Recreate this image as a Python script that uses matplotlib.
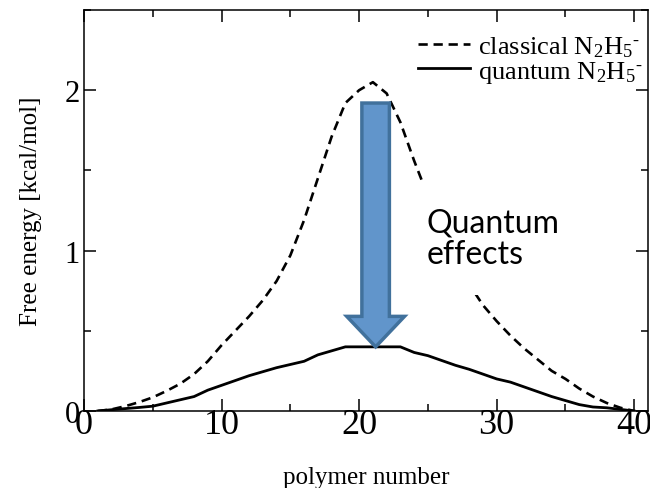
import matplotlib
matplotlib.use("Agg")
import matplotlib.pyplot as plt
from matplotlib.ticker import MultipleLocator

# polymer number (bead index) and free energies in kcal/mol
polymer = list(range(1, 41))
classical = [0.0, 0.01, 0.03, 0.055, 0.085, 0.125, 0.17, 0.23, 0.31, 0.41,
             0.50, 0.59, 0.69, 0.81, 0.97, 1.19, 1.45, 1.71, 1.92, 2.00,
             2.05, 1.98, 1.80, 1.56, 1.34, 1.14, 0.96, 0.79, 0.66, 0.56,
             0.47, 0.39, 0.32, 0.25, 0.20, 0.14, 0.09, 0.05, 0.02, 0.0]
quantum = [0.0, 0.008, 0.015, 0.022, 0.03, 0.05, 0.07, 0.09, 0.13, 0.16,
           0.19, 0.22, 0.245, 0.27, 0.29, 0.31, 0.35, 0.375, 0.40, 0.40,
           0.40, 0.40, 0.40, 0.365, 0.345, 0.315, 0.285, 0.26, 0.23, 0.20,
           0.18, 0.15, 0.12, 0.09, 0.065, 0.04, 0.025, 0.02, 0.01, 0.0]

plt.rcParams["font.family"] = "Liberation Serif"
plt.rcParams["mathtext.fontset"] = "custom"
plt.rcParams["mathtext.rm"] = "Liberation Serif"
plt.rcParams["mathtext.it"] = "Liberation Serif:italic"

ion = r"$\mathrm{N_2{H_5}^{\text{-}}}$"

fig = plt.figure(figsize=(6.5, 4.89), dpi=100)
ax = fig.add_axes([84 / 650, 77 / 489, 564 / 650, 401 / 489])

ax.plot(polymer, classical, color="black", lw=1.9, linestyle=(0, (3.5, 2.2)),
        label="classical " + ion, zorder=2)
ax.plot(polymer, quantum, color="black", lw=2.0,
        label="quantum " + ion, zorder=2)

# big arrow: from the classical barrier down to the quantum one
ax.arrow(21.2, 1.92, 0, -1.52, width=2.0, head_width=4.2, head_length=0.19,
         length_includes_head=True, facecolor="#6195CB", edgecolor="#41719C",
         lw=2.5, zorder=5)

ax.text(24.9, 1.075, "Quantum\neffects", family="Lato", fontsize=23,
        ha="left", va="center", linespacing=1.05, zorder=3,
        bbox=dict(boxstyle="square,pad=0.8", facecolor="white", edgecolor="none"))

ax.set_xlim(0, 41)
ax.set_ylim(0, 2.5)
ax.xaxis.set_major_locator(MultipleLocator(10))
ax.xaxis.set_minor_locator(MultipleLocator(5))
ax.yaxis.set_major_locator(MultipleLocator(1))
ax.yaxis.set_minor_locator(MultipleLocator(0.5))
ax.tick_params(which="both", direction="in", top=True, right=True, width=1.1)
ax.tick_params(which="major", length=8.6)
ax.tick_params(which="minor", length=5)
ax.tick_params(axis="x", labelsize=26, pad=-2.5)
ax.tick_params(axis="y", labelsize=22, pad=3)
for s in ax.spines.values():
    s.set_linewidth(1.1)

ax.set_xlabel("polymer number", fontsize=18)
ax.set_ylabel("Free energy [kcal/mol]", fontsize=18)
ax.xaxis.set_label_coords(0.5, -0.137)
ax.yaxis.set_label_coords(-0.074, 0.5)

ax.legend(loc="upper right", bbox_to_anchor=(0.99, 0.94), frameon=False,
          fontsize=19, handlelength=1.95, handletextpad=0.3, labelspacing=0.0,
          borderpad=0, borderaxespad=0)

fig.savefig("out.png", dpi=100)
